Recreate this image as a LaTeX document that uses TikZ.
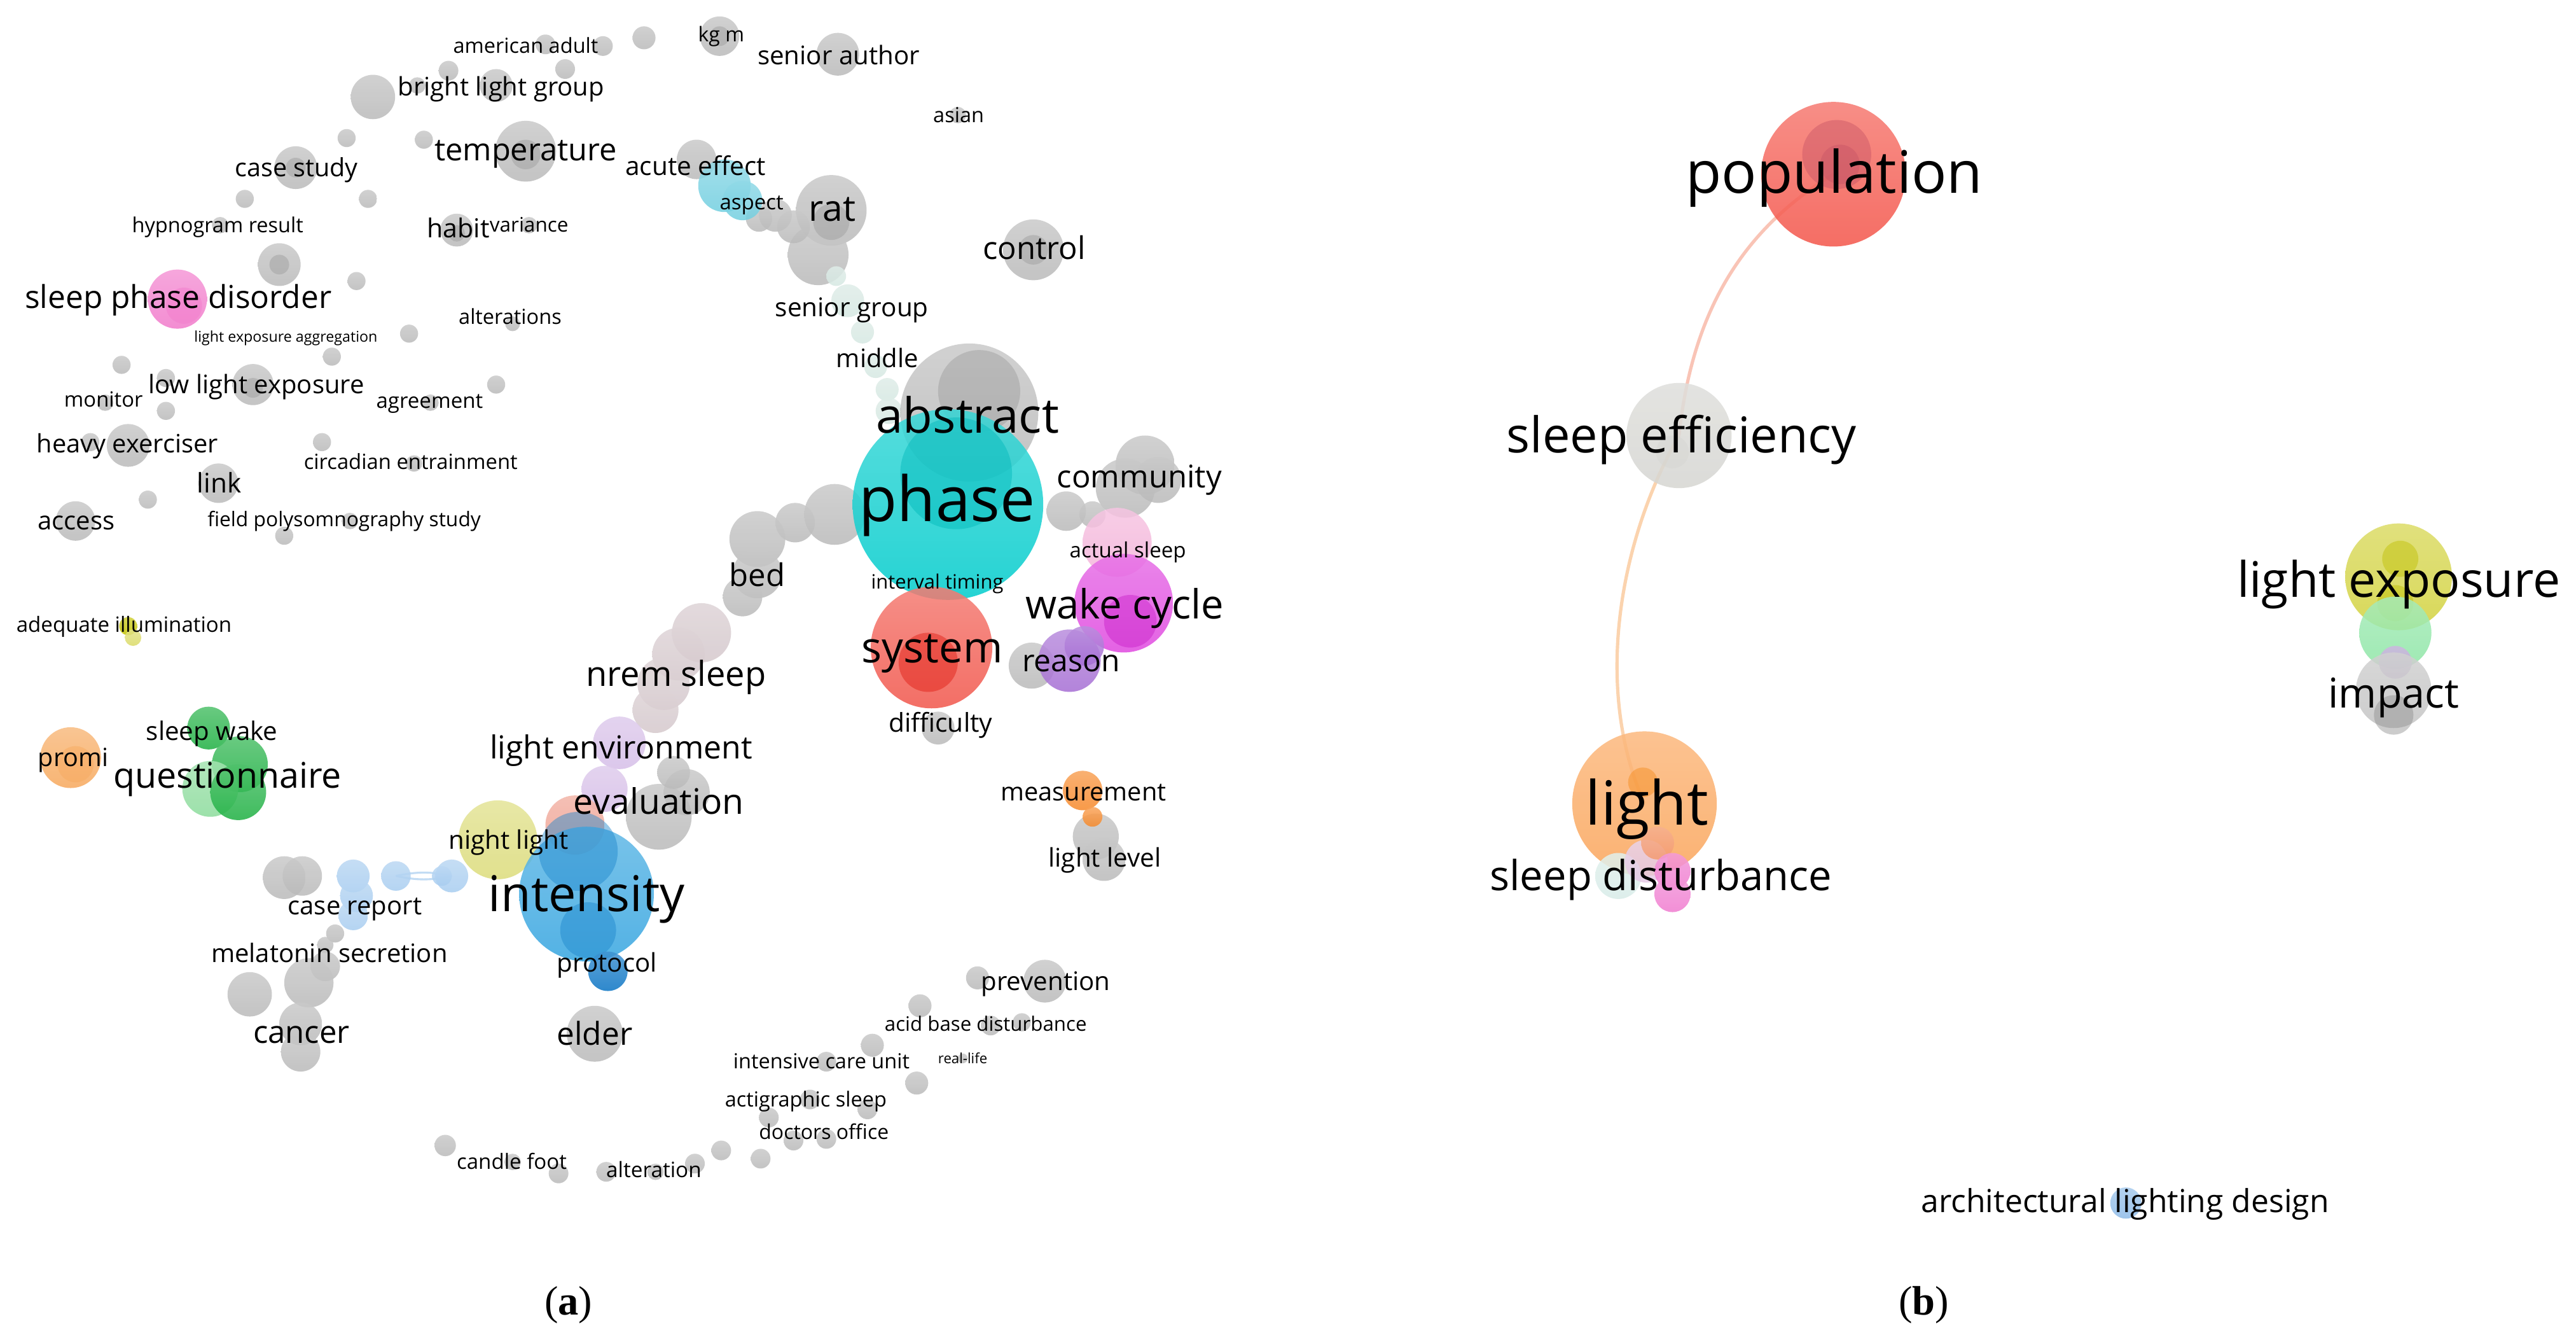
\documentclass[tikz,border=0pt]{standalone}
\usepackage{fontspec}
\setmainfont{Open Sans}
\newfontfamily\capfont{Liberation Serif}
\definecolor{gry}{HTML}{BABABA}
\definecolor{gryD}{HTML}{9C9C9C}
\definecolor{cya}{HTML}{00CCCC}
\definecolor{cyaD}{HTML}{00B8BA}
\definecolor{rdd}{HTML}{F2564B}
\definecolor{rddD}{HTML}{E01A10}
\definecolor{mag}{HTML}{E048E0}
\definecolor{magD}{HTML}{C81EC8}
\definecolor{pnk}{HTML}{F4B4DA}
\definecolor{pur}{HTML}{A66ED4}
\definecolor{blu}{HTML}{35A5E0}
\definecolor{bluD}{HTML}{1C86CC}
\definecolor{bluP}{HTML}{0A74C4}
\definecolor{yel}{HTML}{DCDC7A}
\definecolor{sal}{HTML}{F0A090}
\definecolor{lav}{HTML}{D6BEE8}
\definecolor{mau}{HTML}{D5C8CC}
\definecolor{lblu}{HTML}{A8CDF0}
\definecolor{grn}{HTML}{1EB042}
\definecolor{grnL}{HTML}{8CDC9C}
\definecolor{org}{HTML}{F7A85C}
\definecolor{orgM}{HTML}{F7892A}
\definecolor{oli}{HTML}{C2C200}
\definecolor{acu}{HTML}{72CFE0}
\definecolor{tea}{HTML}{D6E8E2}
\definecolor{spd}{HTML}{F27ACB}
\definecolor{popc}{HTML}{F4554A}
\definecolor{popD}{HTML}{C75566}
\definecolor{sef}{HTML}{D6D6D2}
\definecolor{lgt}{HTML}{FBA55A}
\definecolor{lgtD}{HTML}{F58A1A}
\definecolor{lex}{HTML}{D2D23C}
\definecolor{lexD}{HTML}{BEBE00}
\definecolor{lgr}{HTML}{8EE6A6}
\definecolor{ppl}{HTML}{C0A2D8}
\definecolor{imp}{HTML}{C4C4C4}
\definecolor{impD}{HTML}{8E8E8E}
\definecolor{arc}{HTML}{8DBBE8}
\definecolor{sdp}{HTML}{F07CD0}
\definecolor{sdt}{HTML}{D8ECE8}
\definecolor{sdl}{HTML}{E4C8E4}
\definecolor{sds}{HTML}{F49A70}
\definecolor{lnkA}{HTML}{F9C4B6}
\definecolor{lnkB}{HTML}{FBD3AE}
\newcommand\blob[4]{\shade[top color=#4!78!white, bottom color=#4, fill opacity=0.85] (#1,#2) circle (#3pt);}
\newcommand\core[4]{\fill[#4, fill opacity=0.45] (#1,#2) circle (#3pt);}
\newcommand\lab[5]{\node[lbl, font=\fontsize{#4}{#4}\selectfont] (#1) at (#2,{#3+0.35*#4}) {#5};}
\begin{document}
\begin{tikzpicture}[x=1pt,y=-1pt,
  lbl/.style={anchor=base,inner sep=0pt,text=black},
  linkA/.style={draw=lnkA,line width=2pt},
  linkB/.style={draw=lnkB,line width=2pt},
  linkC/.style={draw=lblu!70!white,line width=1.2pt}]
\useasboundingbox (0,0) rectangle (1568,815);
\fill[white] (0,0) rectangle (1568,815);
% ---------- panel (a) link ----------
\coordinate (crA) at (241,533);
\coordinate (crB) at (275,533);
\draw[linkC] (crA) to[bend left=12] (crB);
\draw[linkC] (crA) to[bend right=12] (crB);
% ---------- panel (a) gray circles ----------
\foreach \x/\y/\r in {332/27/6,367/28/6,392/23/7,438/22/12,510/33/13,583/70/5,
 227/59/13.5,254/52/5,273/43/6,302/52/10,344/42/6,211/84/5.5,258/85/5.5,320/92/18.5,
 180/102/13,149/121/5.5,224/121/5.5,134/137/5,278/140/10,322/137/5,
 170/161/13,217/171/5.5,249/203/5.5,312/197/4.5,202/217/5.5,
 74/222/5.5,101/230/5.5,154/234/12.5,64/245/5,101/250/5.5,262/245/5,302/234/5.5,
 78/271/13,55/269/5.5,196/269/5.5,252/282/5,133/294/12,90/304/5.5,46/317/12,213/317/5,173/326/5.5,
 424/97/12,506/128/21.5,498/155/18.5,472/131/10,483/138/10,462/133/8,629/152/18.5,
 508/313/18.5,484/318/12,461/328/17,461/349/15,452/363/12,
 401/497/20,418/482/14,410/470/10,
 173/534/13,184/533/12,204/568/5.5,198/575/5,198/588/9,188/598/15,152/605/13.5,183/623/13,183/640/12,
 362/629/17,
 271/697/6.5,312/707/5,340/714/6,369/713/6,399/713/5,423/708/6,439/700/6,463/705/6,468/680/6,
 483/694/6,503/693/6,493/669/6,528/675/6,558/659/7,503/646/6,531/636/7,560/612/7,603/624/6,
 622/622/5.5,595/595/7,636/597/13,586/644/3,
 667/509/14,672/523/13,571/443/10,
 697/283/18,685/297/18,705/292/14,649/311/12,665/313/8,628/405/14}
 {\blob{\x}{\y}{\r}{gry}}
\foreach \x/\y/\r in {438/22/6,320/94/9,180/102/6,170/161/6,278/142/5,506/135/11,629/152/9,154/236/6}
 {\core{\x}{\y}{\r}{gryD}}
% ---------- panel (a) coloured circles ----------
\foreach \x/\y/\r in {509/168/6,516/183/10,525/202/7,533/223/7,540/237/7,541/250/8} {\blob{\x}{\y}{\r}{tea}}
\blob{441}{113}{16}{acu}\blob{452}{122}{12}{acu}
\blob{590}{251}{42}{gry}\core{596}{238}{25}{gryD}
\blob{577}{307}{58}{cya}\core{582}{288}{34}{cyaD}
\foreach \x/\y/\r in {427/385/18,413/398/16,404/416/16,399/432/14} {\blob{\x}{\y}{\r}{mau}}
\blob{377}{452}{16}{lav}\blob{368}{480}{14}{lav}
\blob{350}{502}{18}{sal}
\blob{303}{511}{24}{yel}
\blob{357}{544}{41}{blu}\core{352}{518}{24}{bluD}\core{358}{566}{17}{bluD}\blob{370}{591}{12}{bluP}
\foreach \x/\y/\r in {275/533/10,269/533/6,241/533/9,215/533/10,217/545/10,215/557/9} {\blob{\x}{\y}{\r}{lblu}}
\blob{659}{481}{12}{orgM}\blob{665}{497}{6}{orgM}
\blob{567}{394}{37}{rdd}\core{565}{403}{18}{rddD}
\blob{680}{330}{21}{pnk}
\blob{684}{367}{30}{mag}\core{688}{378}{16}{magD}
\blob{651}{402}{19}{pur}\blob{660}{393}{12}{pur}
\blob{108}{182}{18}{spd}\core{112}{186}{11}{spd}
\blob{78}{381}{5.5}{oli}\blob{81}{388}{5}{oli!60!white}
\blob{127}{443}{13}{grn}\blob{146}{465}{17}{grn}\blob{128}{480}{17}{grnL}\blob{145}{482}{17}{grn}
\blob{43}{461}{18.5}{org}\core{46}{465}{11}{org}
% ---------- panel (b) ----------
\coordinate (pop) at (1116,106);
\coordinate (seff) at (1022,265);
\coordinate (lgt) at (1001,489);
\draw[linkA] (pop) .. controls (1060,140) and (1030,190) .. (seff);
\draw[linkB] (seff) .. controls (985,330) and (970,420) .. (lgt);
\blob{1116}{106}{44}{popc}\core{1118}{94}{21}{popD}\core{1120}{100}{12}{popD}
\blob{1022}{265}{32}{sef}\core{1018}{275}{10}{sef}
\blob{1001}{489}{44}{lgt}\core{1000}{476}{9}{lgtD}
\blob{985}{533}{14}{sdt}\blob{1002}{524}{13}{sdl}\blob{1009}{513}{10}{sds}
\blob{1018}{530}{11}{sdp}\blob{1018}{544}{11}{sdp}
\blob{1460}{351}{32.5}{lex}\core{1461}{340}{11}{lexD}\core{1458}{367}{11}{lexD}
\blob{1458}{385}{22}{lgr}\blob{1458}{403}{10}{ppl}
\blob{1457}{420}{23}{imp}\core{1457}{435}{12}{impD}
\blob{1294}{732}{9.5}{arc}
% ---------- labels (a) ----------
\lab{l1}{320}{28}{12.6}{american adult}
\lab{l2}{439}{21}{12.4}{kg m}
\lab{l3}{510.5}{34}{15.6}{senior author}
\lab{l4}{305}{53}{15.5}{bright light group}
\lab{l5}{583.5}{70}{12.6}{asian}
\lab{l6}{320}{91}{18.9}{temperature}
\lab{l7}{423.5}{101}{15.7}{acute effect}
\lab{l8}{457.5}{123}{12.8}{aspect}
\lab{l9}{506.5}{127}{22}{rat}
\lab{l10}{180.5}{102}{15.3}{case study}
\lab{l11}{132.5}{137}{12.6}{hypnogram result}
\lab{l12}{279}{139}{15.9}{habit}
\lab{l13}{322}{137}{12.2}{variance}
\lab{l14}{629.5}{151}{19}{control}
\lab{l15}{108.5}{181}{19.2}{sleep phase disorder}
\lab{l16}{518.5}{187}{15.7}{senior group}
\lab{l17}{310.5}{193}{12.6}{alterations}
\lab{l18}{174}{205}{9}{light exposure aggregation}
\lab{l19}{534}{218}{15.5}{middle}
\lab{l20}{156}{234}{15.5}{low light exposure}
\lab{l21}{63}{243}{12.7}{monitor}
\lab{l22}{261.5}{244}{12.8}{agreement}
\lab{l23}{589}{253}{29.5}{abstract}
\lab{l24}{77.5}{270}{15.4}{heavy exerciser}
\lab{l25}{250}{281}{12.7}{circadian entrainment}
\lab{l26}{693.5}{290}{19}{community}
\lab{l27}{133.5}{294}{16.4}{link}
\lab{l28}{576.5}{304}{38}{phase}
\lab{l29}{46.5}{317}{15.5}{access}
\lab{l30}{209.5}{316}{12.3}{field polysomnography study}
\lab{l31}{686.5}{335}{12.8}{actual sleep}
\lab{l32}{461}{350}{19}{bed}
\lab{l33}{570.5}{354}{12}{interval timing}
\lab{l34}{684.5}{368}{24.5}{wake cycle}
\lab{l35}{75.5}{380}{12.8}{adequate illumination}
\lab{l36}{567.5}{394}{26}{system}
\lab{l37}{652}{402}{18.6}{reason}
\lab{l38}{411.5}{410}{21}{nrem sleep}
\lab{l39}{572.5}{440}{15.8}{difficulty}
\lab{l40}{129}{445}{15.6}{sleep wake}
\lab{l41}{378}{455}{19.3}{light environment}
\lab{l42}{44.5}{461}{15.3}{promi}
\lab{l43}{138.5}{472}{21.5}{questionnaire}
\lab{l44}{659.5}{482}{15.4}{measurement}
\lab{l45}{401}{488}{21.4}{evaluation}
\lab{l46}{309.5}{511}{15.6}{night light}
\lab{l47}{672.5}{522}{15.6}{light level}
\lab{l48}{357}{544}{30}{intensity}
\lab{l49}{216}{551}{15.5}{case report}
\lab{l50}{200.5}{580}{15.5}{melatonin secretion}
\lab{l51}{369.5}{586}{15.6}{protocol}
\lab{l52}{636.5}{597}{15.6}{prevention}
\lab{l53}{600}{623}{12.1}{acid base disturbance}
\lab{l54}{183.5}{628}{19}{cancer}
\lab{l55}{362}{629}{19.2}{elder}
\lab{l56}{586}{644}{8.6}{real-life}
\lab{l57}{500}{646}{12.6}{intensive care unit}
\lab{l58}{490.5}{669}{12.6}{actigraphic sleep}
\lab{l59}{501.5}{689}{12.4}{doctors office}
\lab{l60}{311.5}{707}{12.8}{candle foot}
\lab{l61}{398}{712}{12.9}{alteration}
% ---------- labels (b) ----------
\lab{m1}{1116.5}{105}{35.6}{population}
\lab{m2}{1023.5}{265}{30}{sleep efficiency}
\lab{m3}{1460}{353}{29.8}{light exposure}
\lab{m4}{1457}{422}{25}{impact}
\lab{m5}{1002.5}{489}{37}{light}
\lab{m6}{1011}{533}{25.2}{sleep disturbance}
\lab{m7}{1293.5}{731}{19.3}{architectural lighting design}
% ---------- captions ----------
\node[lbl, font=\capfont\fontsize{25}{25}\selectfont] (capa) at (346,800) {(\textbf{a})};
\node[lbl, font=\capfont\fontsize{25}{25}\selectfont] (capb) at (1171,800) {(\textbf{b})};
\end{tikzpicture}
\end{document}
